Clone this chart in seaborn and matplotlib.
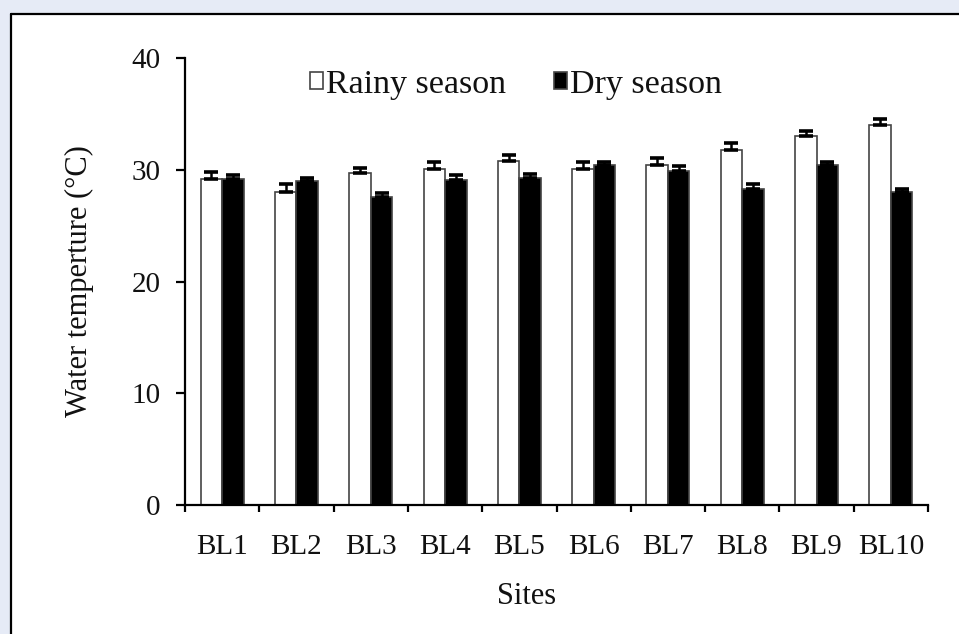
import numpy as np
import pandas as pd
import matplotlib
matplotlib.use("Agg")
import matplotlib.pyplot as plt
from matplotlib.patches import Rectangle
from matplotlib.lines import Line2D
import seaborn as sns

sites = ["BL1", "BL2", "BL3", "BL4", "BL5", "BL6", "BL7", "BL8", "BL9", "BL10"]
rainy = [29.2, 28.0, 29.7, 30.1, 30.8, 30.1, 30.45, 31.8, 33.0, 34.0]
rainy_err = [0.6, 0.7, 0.5, 0.55, 0.5, 0.55, 0.6, 0.55, 0.5, 0.55]
dry = [29.2, 29.0, 27.6, 29.1, 29.3, 30.4, 29.9, 28.3, 30.4, 28.0]
dry_err = [0.3, 0.3, 0.35, 0.45, 0.3, 0.3, 0.4, 0.4, 0.3, 0.3]
seasons = ["Rainy season", "Dry season"]
y_ticks = [0, 10, 20, 30, 40]

df = pd.DataFrame({
    "site": sites * 2,
    "temp": rainy + dry,
    "season": [seasons[0]] * len(sites) + [seasons[1]] * len(sites),
})

sns.set_theme(style="white")
plt.rcParams["font.family"] = ["Liberation Serif", "DejaVu Serif"]
FS_TICK = 21
FS_LAB = 22
FS_LEG = 24.5

fig = plt.figure(figsize=(9.59, 6.34), dpi=100)
fig.patch.set_facecolor("#e6ebf6")
W, H = 959, 634
# white panel with black top/left border
fig.add_artist(Rectangle((10.5 / W, 0), 1, (H - 13.5) / H, transform=fig.transFigure,
                         facecolor="white", edgecolor="none", zorder=-10))
fig.add_artist(Line2D([10.5 / W, 1], [(H - 13.5) / H] * 2, transform=fig.transFigure,
                      color="black", lw=1.6))
fig.add_artist(Line2D([10.5 / W] * 2, [0, (H - 13.5) / H], transform=fig.transFigure,
                      color="black", lw=1.6))

ax = fig.add_axes([185 / W, 1 - 505 / H, (928 - 185) / W, (505 - 58) / H])
ax.set_facecolor("none")

sns.barplot(data=df, x="site", y="temp", hue="season", order=sites, hue_order=seasons,
            palette={seasons[0]: "white", seasons[1]: "black"},
            edgecolor="#444444", linewidth=1.2, width=0.58, errorbar=None, ax=ax,
            legend=True)

# error bars (upper only) on top of the bars drawn by seaborn
errs = {seasons[0]: rainy_err, seasons[1]: dry_err}
for cont, s in zip(ax.containers, seasons):
    xs = [p.get_x() + p.get_width() / 2 for p in cont.patches]
    ys = [p.get_height() for p in cont.patches]
    e = errs[s]
    ax.errorbar(xs, ys, yerr=[np.zeros(len(e)), e], fmt="none", ecolor="black",
                elinewidth=1.8, capsize=4.8, capthick=2.6, zorder=5)

ax.set_xlim(-0.5, len(sites) - 0.5)
ax.set_ylim(0, 40)
ax.set_yticks(y_ticks)
ax.set_yticklabels([str(t) for t in y_ticks])

for side in ["top", "right"]:
    ax.spines[side].set_visible(False)
for side in ["left", "bottom"]:
    ax.spines[side].set_color("black")
    ax.spines[side].set_linewidth(1.6)

ax.tick_params(axis="y", which="major", direction="out", length=6.5, width=1.6,
               color="black", labelsize=FS_TICK, pad=11, left=True, labelcolor="#111111")
ax.tick_params(axis="x", which="major", length=0, labelsize=FS_TICK, pad=21,
               labelcolor="#111111")
ax.set_xticks(np.arange(-0.5, len(sites), 1.0), minor=True)
ax.tick_params(axis="x", which="minor", direction="out", length=5, width=1.6,
               color="black", bottom=True)

ax.set_xlabel("Sites", fontsize=FS_LAB, color="#111111")
ax.xaxis.set_label_coords(0.46, -0.172)
ax.set_ylabel("Water temperture (°C)", fontsize=FS_LAB, color="#111111")
ax.yaxis.set_label_coords(-0.122, 0.5)

handles, labels = ax.get_legend_handles_labels()
leg = ax.legend(handles, labels, loc="center left", bbox_to_anchor=(0.168, 0.94),
                ncol=2, frameon=False, fontsize=FS_LEG, handlelength=0.4,
                handleheight=0.4, handletextpad=0.08, columnspacing=1.4,
                borderpad=0, borderaxespad=0)
for t in leg.get_texts():
    t.set_color("#111111")

fig.savefig("out.png", dpi=100, facecolor=fig.get_facecolor())
